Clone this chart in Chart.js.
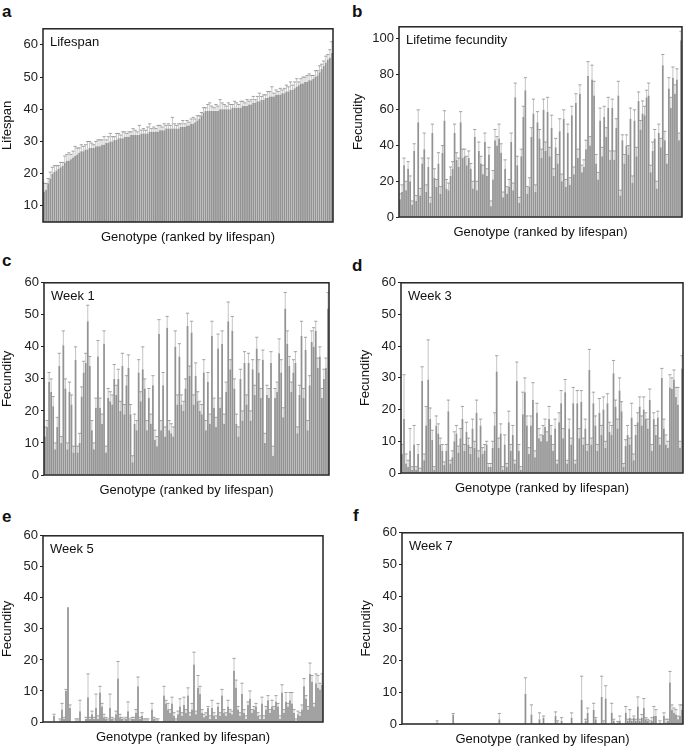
<!DOCTYPE html>
<html>
<head>
<meta charset="utf-8">
<script src="https://cdn.jsdelivr.net/npm/chart.js@4.4.0/dist/chart.umd.min.js"></script>
<style>
  body { margin: 0; width: 685px; height: 746px; background: #fff; position: relative; overflow: hidden; font-family: "Liberation Sans", Arial, sans-serif; }
  .panel { position: absolute; }
  .letter { position: absolute; font-weight: bold; font-size: 17px; line-height: 1; color: #111; }
</style>
</head>
<body>
<div class="letter" style="left:2px;top:3px">a</div>
<div class="letter" style="left:352px;top:3px">b</div>
<div class="letter" style="left:2px;top:252px">c</div>
<div class="letter" style="left:352px;top:257px">d</div>
<div class="letter" style="left:2px;top:508px">e</div>
<div class="letter" style="left:353px;top:507px">f</div>

<div class="panel" id="pa"><canvas id="ca"></canvas></div>
<div class="panel" id="pb"><canvas id="cb"></canvas></div>
<div class="panel" id="pc"><canvas id="cc"></canvas></div>
<div class="panel" id="pd"><canvas id="cd"></canvas></div>
<div class="panel" id="pe"><canvas id="ce"></canvas></div>
<div class="panel" id="pf"><canvas id="cf"></canvas></div>

<script>
// values, genotypes in lifespan order
const lifespan = [
  14.5, 15, 17, 18.5, 20, 20.5, 21, 21.5, 22, 22.5,
  23.5, 24, 24, 24.5, 25, 25.5, 26, 26.5, 27, 27,
  27.5, 27.5, 28, 28, 28, 28.5, 28.5, 28.5, 29, 29,
  29.5, 29.5, 30, 30, 30.5, 30.5, 31, 31, 31, 31.5,
  31.5, 31.5, 32, 32, 32, 32, 32, 32.5, 32.5, 32.5,
  32.5, 33, 33, 33, 33, 33, 33.5, 33.5, 33.5, 34,
  34, 34, 34, 34, 34, 34, 34.5, 34.5, 34.5, 35,
  35, 35.5, 35.5, 36, 36.5, 37, 38, 39, 39.5, 39.5,
  39.5, 39.5, 39.5, 39.5, 39.5, 40, 40, 40, 40, 40,
  40, 40.5, 40.5, 40.5, 40.5, 40.5, 41, 41, 41, 41.5,
  41.5, 42, 42, 42.5, 42.5, 43, 43, 43.5, 43.5, 44,
  44, 44, 44.5, 44.5, 44.5, 45, 45, 45.5, 45.5, 46,
  46, 46.5, 47, 47.5, 48, 48, 48.5, 48.5, 49, 49,
  49.5, 50, 50.5, 51.5, 52.5, 53.5, 54.5, 55.5, 56, 57.5
];
const lifespanErr = [
  2.5, 2, 1.5, 2, 2, 2, 1.5, 1, 1.5, 1,
  2, 2, 2.5, 1.5, 2, 3, 2, 1.5, 2, 1.5,
  1.5, 2.5, 2, 1.5, 1, 1.5, 2, 2, 1.5, 2.5,
  1, 2, 2.5, 1.5, 1, 2, 1.5, 1, 2, 1.5,
  1, 1.5, 1, 2, 1.5, 1, 3, 1, 1.5, 1,
  2, 2.5, 1, 1.5, 1, 2, 1.5, 1, 2, 1,
  1.5, 1, 3.5, 1.5, 1, 1.5, 1, 2, 1, 1.5,
  1, 1.5, 2, 1, 1.5, 1, 1, 1.5, 1, 2,
  2.5, 1.5, 1, 2, 1.5, 3, 2, 1.5, 1, 2,
  1.5, 1, 2, 1.5, 1, 2, 1.5, 1, 2, 1,
  1.5, 2, 1, 1.5, 2.5, 1, 1.5, 1, 2, 1.5,
  3, 1, 1.5, 1, 2, 1, 1.5, 2, 1.5, 2.5,
  1.5, 2, 2.5, 1, 1.5, 2, 1.5, 2, 2, 1.5,
  1, 2, 1.5, 2, 1.5, 1.5, 2, 1.5, 2.5, 3.5
];

const lifetimeFecundity = [
  10, 14, 29, 15, 27, 20, 7, 37, 9, 53,
  12, 30, 38, 14, 28, 8, 47, 22, 17, 30,
  13, 36, 54, 16, 15, 23, 27, 47, 32, 28,
  53, 33, 34, 29, 33, 27, 16, 45, 15, 37,
  30, 24, 42, 23, 35, 6, 21, 43, 40, 44,
  36, 11, 27, 13, 17, 42, 15, 67, 29, 8,
  34, 56, 71, 13, 17, 45, 58, 14, 53, 44,
  33, 60, 37, 59, 34, 50, 23, 39, 30, 48,
  20, 55, 17, 47, 18, 57, 24, 64, 33, 69,
  25, 28, 38, 79, 40, 77, 68, 30, 21, 54,
  34, 56, 45, 61, 32, 61, 32, 50, 68, 12,
  43, 30, 40, 35, 55, 19, 54, 34, 65, 49,
  58, 57, 67, 68, 25, 37, 44, 16, 47, 39,
  85, 43, 30, 72, 61, 78, 69, 77, 43, 99
];
const lifetimeErr = [
  3, 4, 4, 5, 4, 3, 2, 4, 3, 7,
  4, 3, 9, 4, 5, 3, 5, 5, 4, 6,
  4, 4, 5.5, 5, 4, 5, 4, 5, 4, 5,
  6, 5, 4, 5, 4, 3, 4, 4, 5, 5,
  4, 5, 5, 4, 4, 3, 5, 6, 5, 8,
  5, 3, 5, 4, 4, 5, 4, 8, 5, 3,
  4, 6, 7, 4, 5, 5, 8, 4, 6, 5,
  5, 6, 5, 8, 5, 7, 4, 5, 5, 7,
  4, 5, 4, 5, 4, 5, 4, 5, 5, 5,
  4, 4, 5, 8, 5, 8, 8, 5, 4, 7,
  5, 6, 5, 6, 5, 5, 5, 5, 8, 3,
  3, 5, 6, 5, 6, 4, 6, 5, 5, 5,
  7, 5, 4, 7, 4, 5, 5, 4, 5, 5,
  6, 5, 5, 6, 6, 6, 5, 6, 4, 5
];

const week1 = [
  12, 15, 29, 26, 21.5, 8, 15, 34, 10, 40.5,
  27, 8, 26, 22, 7, 36, 7, 10, 24.5, 32,
  35, 48, 34, 14, 8, 21, 37, 21, 16, 41,
  7, 24, 23, 22, 30, 25, 30, 20, 34, 19,
  28, 33.5, 19, 4, 16, 14, 32, 23, 33, 27,
  14, 24, 16, 28, 11, 9, 44, 14, 28, 12,
  46, 14, 13, 12, 40, 22, 37, 22, 20, 27,
  46.5, 31, 44.5, 22, 31, 23, 20, 19, 32, 14,
  29, 16, 43.5, 21, 15, 39.5, 21, 41, 16, 26,
  48, 33, 45, 27, 16, 12, 30, 17, 35, 22,
  35, 17, 33, 25, 39.5, 32, 24, 36, 10, 25,
  24, 35, 6, 24, 26, 38, 32, 18, 52, 41,
  34, 26, 32, 35, 13, 25, 43.5, 24, 39, 14,
  28, 41.5, 40, 45, 33.5, 37, 24, 30, 33.5, 52
];
const week1Err = [
  3, 2, 3, 4, 3, 2, 3, 4, 2, 4.5,
  3, 2, 3, 3, 2, 4, 2, 3, 3, 3.5,
  3, 5, 3, 3, 2, 3, 5, 3, 3, 4,
  2, 3, 3, 3, 4.5, 3, 3, 3, 4, 3,
  3, 4, 3, 2, 3, 3, 4, 3, 7, 3,
  3, 3, 3, 3, 3, 3, 4.5, 3, 4, 3,
  3.5, 3, 3, 3, 5, 3, 4, 3, 3, 3,
  4, 3, 3.5, 3, 4, 3, 3, 3, 4, 3,
  3, 3, 4.5, 3, 3, 4.5, 3, 4, 3, 3,
  6, 3, 4.5, 3, 3, 3, 3, 3, 3.5, 3,
  3, 3, 3, 3, 3.5, 4, 3, 3, 3, 3,
  3, 3.5, 3, 3, 3, 4.5, 4, 3, 5, 4,
  3, 3, 4, 3.5, 2, 3, 4.5, 3, 4, 3,
  3, 3.5, 6, 3, 3, 3, 3, 3, 3, 5
];

const week3 = [
  6, 17, 3, 2, 7, 1, 9, 1, 6, 0.5,
  29, 4, 15, 29.5, 17, 10.5, 1, 15, 12.5, 9,
  7, 2.5, 7, 19.5, 3, 5, 10, 12.5, 6.5, 11,
  17, 7, 13, 9, 6, 14, 8, 19, 5, 15,
  6, 7, 9, 2, 2, 8, 15, 32, 8, 12.5,
  1, 9, 2, 16, 7, 12, 3, 29, 7, 1,
  18.5, 25.5, 15, 6, 15, 23, 5, 19, 11, 10,
  12, 14.5, 10, 17, 12, 7, 14, 3, 16, 22,
  11, 25.5, 3, 14, 9, 22, 3, 22, 11, 22.5,
  9, 14, 7, 32.5, 9, 22, 15, 7, 19, 12,
  20, 8, 22, 13, 12, 31.5, 21, 14, 26, 19.5,
  2, 8.5, 12, 9, 17.5, 4, 12, 16, 21, 15,
  20, 17, 14, 23, 7, 17, 12, 17.5, 9, 30,
  14, 9, 8, 27, 26.5, 29.5, 24, 21.5, 8, 33
];
const week3Err = [
  3, 14, 3, 2, 7, 1, 6, 1, 3, 1,
  4.5, 2, 6, 12.5, 3.5, 3, 1, 3, 3, 2,
  2, 1, 2, 3.5, 1, 2, 3, 2.5, 2, 3,
  4, 2, 3, 2, 2, 3, 2, 4, 2, 2,
  2, 2, 1, 1, 1, 2, 4, 5, 3, 3,
  1, 3, 1, 3.5, 2, 3, 1, 6, 2, 1,
  7, 4.5, 3, 2, 3, 5.5, 2, 3, 3, 2,
  3, 2.5, 3, 4, 3, 2, 3, 1, 3, 4,
  3, 4, 1, 3, 2, 5, 1, 4, 3, 3.5,
  2, 3, 2, 6.5, 2, 3.5, 3, 2, 4.5, 3,
  4, 2, 3, 3, 3, 4, 2, 3, 4, 3,
  1, 2, 3, 2, 4.5, 2, 3, 3, 3, 3,
  4, 2, 3, 3.5, 2, 2, 3, 2, 2, 3,
  3, 3, 2, 4, 3.5, 3, 3, 5.5, 2, 4
];

const week5 = [
  0, 0, 0, 0, 0, 2, 0, 0, 0.5, 4,
  1, 10, 37, 4.5, 0, 0, 0.5, 0.5, 3.5, 0,
  0, 1, 8, 1, 2.5, 1, 4.5, 1, 9.5, 5,
  1.5, 1, 0.5, 4.5, 1, 0.5, 2.5, 14, 1.5, 1,
  0.5, 1, 3.5, 0.5, 1, 1, 3, 11.5, 1, 2,
  0.5, 0.5, 0.5, 0, 4, 1, 0.5, 0.5, 0, 0,
  8.5, 6, 4, 3, 6, 2, 0.5, 2.5, 5, 2,
  5.5, 3, 8.5, 2, 4, 18.5, 2.5, 11, 9, 3,
  1.5, 2, 4.5, 1, 4.5, 2, 1, 5, 2, 8.5,
  3, 2, 5, 3, 2.5, 16.5, 11, 4, 2, 9,
  3, 1, 5.5, 7.5, 3, 4, 5, 2, 1, 6,
  1, 4, 7, 3, 5, 4, 6.5, 5, 1, 9.5,
  3, 6.5, 5, 7, 6, 3, 0.5, 2.5, 2, 4,
  11.5, 7.5, 4, 15.5, 13, 5, 12.5, 11, 10.5, 12
];
const week5Err = [
  0, 0, 0, 0, 0, 0.5, 0, 0, 0.5, 2,
  0.5, 0.5, 0, 1, 0, 0, 0.5, 0.5, 3.5, 0,
  0, 0.5, 7.5, 0.5, 1, 0.5, 4.5, 1, 2, 1,
  1, 0.5, 0.5, 4.5, 0.5, 0.5, 1, 5.5, 1, 0.5,
  0.5, 0.5, 3, 0.5, 0.5, 0.5, 1, 3, 0.5, 1,
  0.5, 0.5, 0.5, 0, 2, 0.5, 0.5, 0.5, 0, 0,
  3, 1, 2, 1, 2, 1, 0.5, 1, 2.5, 1,
  2.5, 1, 2.5, 1, 2, 4, 1, 4, 2.5, 1,
  1, 1, 0.5, 1, 2.5, 1, 1, 1, 1, 2,
  1, 1, 2, 1, 1, 4, 2.5, 1, 1, 3.5,
  1, 1, 1, 2.5, 1, 1, 1, 1, 1, 2,
  1, 1, 1.5, 1, 2, 1, 2, 1, 1, 2.5,
  1, 3, 1, 2.5, 3.5, 1, 0.5, 1, 1, 1.5,
  2.5, 1, 1, 3.5, 2, 1, 3, 4, 2, 3.5
];

const week7 = [
  0, 0, 0, 0, 0, 0, 0, 0, 0, 0,
  0, 0, 0, 0, 0, 0, 0, 0.5, 0, 0,
  0, 0, 0, 0, 0, 3, 0, 0, 0, 0,
  0, 0, 0, 0, 0, 0, 0, 0, 0, 0,
  0, 0, 0, 0, 0, 0, 0, 0, 1.5, 0,
  0, 0, 0, 0, 0, 0, 0, 0, 0, 0,
  0, 9.5, 0, 0, 3, 0, 0, 0, 1.5, 0,
  2, 0, 0, 0, 0, 0, 2.5, 0.5, 0, 1,
  0, 0, 0, 0, 2, 0, 0, 0, 0, 7.5,
  0, 1, 3.5, 0, 0, 4.5, 1.5, 0, 0, 8.5,
  0.5, 8, 0, 0, 3.5, 1, 0, 0.5, 1, 0,
  0, 3.5, 1, 2, 1, 2, 1, 5.5, 1, 2,
  5, 1.5, 1, 0.5, 1, 2.5, 2.5, 0, 0.5, 0,
  2.5, 0.5, 1, 13, 4.5, 3.5, 3, 1.5, 2.5, 4.5
];
const week7Err = [
  0, 0, 0, 0, 0, 0, 0, 0, 0, 0,
  0, 0, 0, 0, 0, 0, 0, 0.5, 0, 0,
  0, 0, 0, 0, 0, 0.3, 0, 0, 0, 0,
  0, 0, 0, 0, 0, 0, 0, 0, 0, 0,
  0, 0, 0, 0, 0, 0, 0, 0, 1.8, 0,
  0, 0, 0, 0, 0, 0, 0, 0, 0, 0,
  0, 5, 0, 0, 3, 0, 0, 0, 2, 0,
  0.5, 0, 0, 0, 0, 0, 1.3, 0.5, 0, 1,
  0, 0, 0, 0, 1.5, 0, 0, 0, 0, 7.5,
  0, 0.5, 1.5, 0, 0, 2, 0.5, 0, 0, 6.5,
  0.5, 4, 0, 0, 3, 0.5, 0, 0.3, 1.5, 0,
  0, 2, 0.5, 2.5, 0.5, 0.5, 0.5, 3, 0.5, 1,
  3, 0.5, 0.5, 0.5, 1, 3, 2, 0, 0.5, 0,
  1, 1, 0.5, 3.5, 1.5, 1.5, 1.5, 1, 3.5, 1.5
];

const genotypes = lifespan.map((_, i) => i + 1);

// y tick labels
const lifespanTicks = [10, 20, 30, 40, 50, 60];
const lifetimeTicks = [0, 20, 40, 60, 80, 100];
const weekTicks = [0, 10, 20, 30, 40, 50, 60];

const FONT = '"Liberation Sans", Arial, sans-serif';

// vertical SE whiskers with small caps, placed through the y scale
const errorBars = {
  id: "errorBars",
  afterDatasetsDraw(chart) {
    const ds = chart.data.datasets[0];
    const meta = chart.getDatasetMeta(0);
    const y = chart.scales.y;
    const a = chart.chartArea;
    const ctx = chart.ctx;
    ctx.save();
    ctx.beginPath();
    ctx.rect(a.left, a.top, a.right - a.left, a.bottom - a.top);
    ctx.clip();
    meta.data.forEach((bar, i) => {
      const e = ds.errors[i];
      if (!e) return;
      const y0 = y.getPixelForValue(ds.data[i]);
      const y1 = y.getPixelForValue(ds.data[i] + e);
      ctx.strokeStyle = "#c4c4c4";
      ctx.lineWidth = 1;
      ctx.beginPath();
      ctx.moveTo(bar.x, y0);
      ctx.lineTo(bar.x, y1);
      ctx.stroke();
      ctx.strokeStyle = "#8e8e8e";
      ctx.lineWidth = 0.8;
      ctx.beginPath();
      ctx.moveTo(bar.x - 1.6, y1);
      ctx.lineTo(bar.x + 1.6, y1);
      ctx.stroke();
    });
    ctx.restore();
  },
};

// box around the plot + label in the top-left corner
const frame = {
  id: "frame",
  afterDraw(chart, args, opts) {
    const { ctx, chartArea: a } = chart;
    ctx.save();
    ctx.strokeStyle = "#222";
    ctx.lineWidth = 1.5;
    ctx.strokeRect(a.left, a.top, a.right - a.left, a.bottom - a.top);
    ctx.fillStyle = "#111";
    ctx.font = "13px " + FONT;
    ctx.textBaseline = "middle";
    ctx.fillText(opts.text, a.left + 7, a.top + 14);
    ctx.restore();
  },
};

const panels = [
  { id: "a", data: lifespan, err: lifespanErr, text: "Lifespan", yTitle: "Lifespan", min: 5, max: 65, ticks: lifespanTicks, box: [43, 21, 333, 222], yW: 43 },
  { id: "b", data: lifetimeFecundity, err: lifetimeErr, text: "Lifetime fecundity", yTitle: "Fecundity", min: 0, max: 106.5, ticks: lifetimeTicks, box: [399, 19, 682, 217], yW: 48 },
  { id: "c", data: week1, err: week1Err, text: "Week 1", yTitle: "Fecundity", min: 0, max: 60, ticks: weekTicks, box: [44, 275, 329, 475], yW: 44 },
  { id: "d", data: week3, err: week3Err, text: "Week 3", yTitle: "Fecundity", min: 0, max: 60, ticks: weekTicks, box: [401, 275, 683, 473], yW: 43 },
  { id: "e", data: week5, err: week5Err, text: "Week 5", yTitle: "Fecundity", min: 0, max: 60, ticks: weekTicks, box: [43, 528, 323, 722], yW: 43 },
  { id: "f", data: week7, err: week7Err, text: "Week 7", yTitle: "Fecundity", min: 0, max: 60, ticks: weekTicks, box: [402, 525, 683, 724], yW: 43 },
];

const X_H = 24;

panels.forEach((p) => {
  const [l, t, r, b] = p.box;
  const left = l - p.yW;
  const top = t - 2;
  const w = r - left + 2;
  const h = b - t + 2 + X_H;
  const wrap = document.getElementById("p" + p.id);
  wrap.style.left = left + "px";
  wrap.style.top = top + "px";
  const canvas = document.getElementById("c" + p.id);
  canvas.width = w;
  canvas.height = h;
  canvas.style.width = w + "px";
  canvas.style.height = h + "px";

  new Chart(canvas.getContext("2d"), {
    type: "bar",
    data: {
      labels: genotypes,
      datasets: [
        {
          data: p.data,
          errors: p.err,
          backgroundColor: "#939393",
          borderWidth: 0,
          barPercentage: 0.86,
          categoryPercentage: 1,
        },
      ],
    },
    options: {
      responsive: false,
      animation: false,
      devicePixelRatio: 1,
      layout: { padding: { top: 2, right: 2, left: 0, bottom: 0 } },
      plugins: {
        legend: { display: false },
        tooltip: { enabled: false },
        frame: { text: p.text },
      },
      scales: {
        x: {
          ticks: { display: false },
          grid: { display: false },
          border: { display: false },
          title: {
            display: true,
            text: "Genotype (ranked by lifespan)",
            color: "#111",
            font: { family: FONT, size: 13 },
            padding: { top: 0, bottom: 1 },
          },
          afterFit: (s) => {
            s.height = X_H;
          },
        },
        y: {
          min: p.min,
          max: p.max,
          ticks: {
            color: "#222",
            font: { family: FONT, size: 13 },
            padding: 2,
          },
          afterBuildTicks: (s) => {
            s.ticks = p.ticks.map((v) => ({ value: v }));
          },
          grid: { drawOnChartArea: false, tickLength: 3, color: "#222" },
          border: { display: false },
          title: {
            display: true,
            text: p.yTitle,
            color: "#111",
            font: { family: FONT, size: 13 },
            padding: 0,
          },
          afterFit: (s) => {
            s.width = p.yW;
          },
        },
      },
    },
    plugins: [errorBars, frame],
  });
});
</script>
</body>
</html>
